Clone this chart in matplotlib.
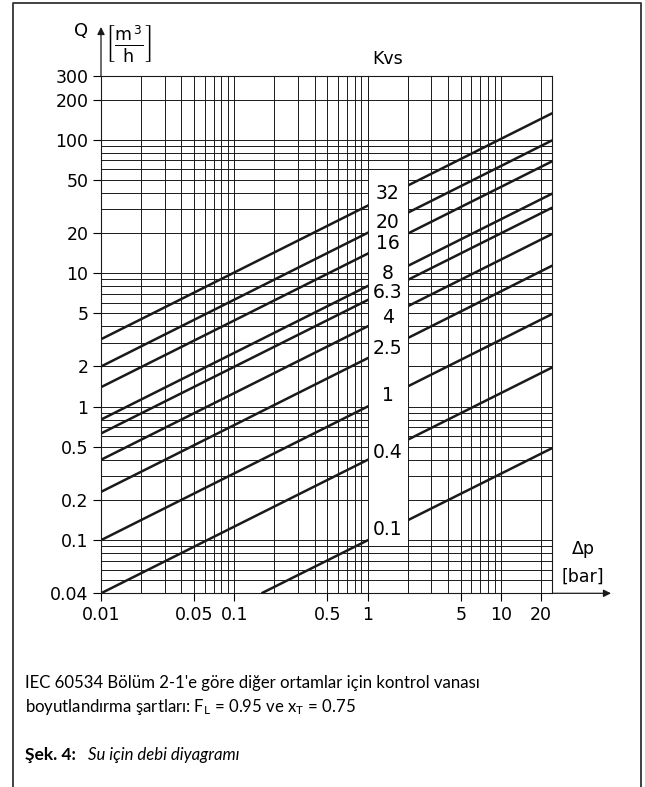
import matplotlib
matplotlib.use('Agg')
import matplotlib.pyplot as plt
from matplotlib.lines import Line2D
from matplotlib.patches import Rectangle
import numpy as np

plt.rcParams['font.family'] = ['DejaVu Sans']
plt.rcParams['mathtext.default'] = 'regular'

# Kvs lines: start point, end point at right edge
kvs_labels = ['32', '20', '16', '8', '6.3', '4', '2.5', '1', '0.4', '0.1']
dp_start = [0.01, 0.01, 0.01, 0.01, 0.01, 0.01, 0.01, 0.01, 0.01, 0.16]
q_start = [3.2, 2.0, 1.4, 0.8, 0.63, 0.4, 0.23, 0.1, 0.04, 0.04]
dp_end = [24.3, 24.3, 24.3, 24.3, 24.3, 24.3, 24.3, 24.3, 24.3, 24.3]
q_end = [158, 99, 69, 39.5, 31, 19.7, 11.4, 4.95, 1.97, 0.49]
label_q = [39.6, 24, 16.7, 9.9, 7.15, 4.64, 2.72, 1.21, 0.45, 0.121]

x_ticks = [0.01, 0.05, 0.1, 0.5, 1, 5, 10, 20]
x_ticklabels = ['0.01', '0.05', '0.1', '0.5', '1', '5', '10', '20']
y_ticks = [0.04, 0.1, 0.2, 0.5, 1, 2, 5, 10, 20, 50, 100, 200, 300]
y_ticklabels = ['0.04', '0.1', '0.2', '0.5', '1', '2', '5', '10', '20', '50', '100', '200', '300']

W, H = 645, 787
fig = plt.figure(figsize=(W / 100, H / 100), dpi=100)
# axes box in pixels: left 101, right 552, top 76, bottom 593
ax = fig.add_axes([101 / W, (H - 593.3) / H, (552.3 - 101) / W, (593.3 - 76) / H])
ax.set_xscale('log')
ax.set_yscale('log')
ax.set_xlim(0.01, 24.3)
ax.set_ylim(0.04, 300)

# grid: every 1..9 per decade
minor_x = [m * 10.0 ** e for e in range(-2, 2) for m in range(1, 10)]
minor_x = [v for v in minor_x if 0.01 < v < 24.3 and v not in x_ticks]
minor_y = [m * 10.0 ** e for e in range(-2, 3) for m in range(1, 10)]
minor_y = [v for v in minor_y if 0.04 < v < 300 and v not in y_ticks]
ax.set_xticks(x_ticks)
ax.set_xticklabels(x_ticklabels)
ax.set_xticks(minor_x, minor=True)
ax.set_yticks(y_ticks)
ax.set_yticklabels(y_ticklabels)
ax.set_yticks(minor_y, minor=True)
ax.tick_params(which='major', direction='out', length=6, width=0.8, labelsize=12.5, pad=3)
ax.tick_params(which='minor', length=0)
ax.grid(True, which='both', color='#1a1a1a', lw=0.7)
ax.set_axisbelow(True)
for s in ax.spines.values():
    s.set_linewidth(0.8)
    s.set_color('#1a1a1a')

for i in range(len(kvs_labels)):
    ax.plot([dp_start[i], dp_end[i]], [q_start[i], q_end[i]], color='#1a1a1a', lw=1.8,
            solid_capstyle='butt', zorder=3)

# label box between 1 and 2 bar
ax.add_patch(Rectangle((1, 0.095), 1, 55 - 0.095, facecolor='white', edgecolor='none', zorder=4))
ax.vlines([1, 2], 0.04, 300, color='#1a1a1a', lw=0.7, zorder=5)
for i in range(len(kvs_labels)):
    ax.text(np.sqrt(2), label_q[i], kvs_labels[i], ha='center', va='center', fontsize=13.5,
            zorder=6)

ax.text(np.sqrt(2), 400, 'Kvs', ha='center', va='center', fontsize=12.5, clip_on=False)

# axis arrows
ax.annotate('', xy=(101, H - 27), xytext=(101, H - 76), xycoords='figure pixels',
            textcoords='figure pixels',
            arrowprops=dict(arrowstyle='-|>', lw=0.9, color='#1a1a1a', mutation_scale=11,
                            shrinkA=0, shrinkB=0))
ax.annotate('', xy=(611, H - 593.3), xytext=(552.3, H - 593.3), xycoords='figure pixels',
            textcoords='figure pixels',
            arrowprops=dict(arrowstyle='-|>', lw=0.9, color='#1a1a1a', mutation_scale=11,
                            shrinkA=0, shrinkB=0))

fig.text(81 / W, 1 - 31 / H, 'Q', ha='center', va='center', fontsize=13)
fig.text(129 / W, 1 - 43 / H, r'$\left[\frac{\mathrm{m}^{\,3}}{\mathrm{h}}\right]$',
         ha='center', va='center', fontsize=18)
fig.text(583 / W, 1 - 549 / H, 'Δp', ha='center', va='center', fontsize=12.5)
fig.text(583 / W, 1 - 577 / H, '[bar]', ha='center', va='center', fontsize=12.5)

# captions
cap_font = ['Lato', 'DejaVu Sans']
fig.text(25 / W, 1 - 683 / H, "IEC 60534 Bölüm 2-1'e göre diğer ortamlar için kontrol vanası",
         ha='left', va='center', fontsize=12.1, family=cap_font)
fig.text(25 / W, 1 - 707 / H, r'boyutlandırma şartları: F$_L$ = 0.95 ve x$_T$ = 0.75',
         ha='left', va='center', fontsize=12.1, family=cap_font)
fig.text(25 / W, 1 - 755 / H, 'Şek. 4:', ha='left', va='center', fontsize=12.5,
         fontweight='bold', family=cap_font)
fig.text(88 / W, 1 - 755 / H, 'Su için debi diyagramı', ha='left', va='center',
         fontsize=12.1, style='italic', family=cap_font)

# page frame
fig.add_artist(Line2D([13 / W, 13 / W, 641 / W, 641 / W], [0, 1 - 3 / H, 1 - 3 / H, 0],
                      transform=fig.transFigure, color='#333333', lw=1.3))

fig.savefig('out.png', dpi=100)
